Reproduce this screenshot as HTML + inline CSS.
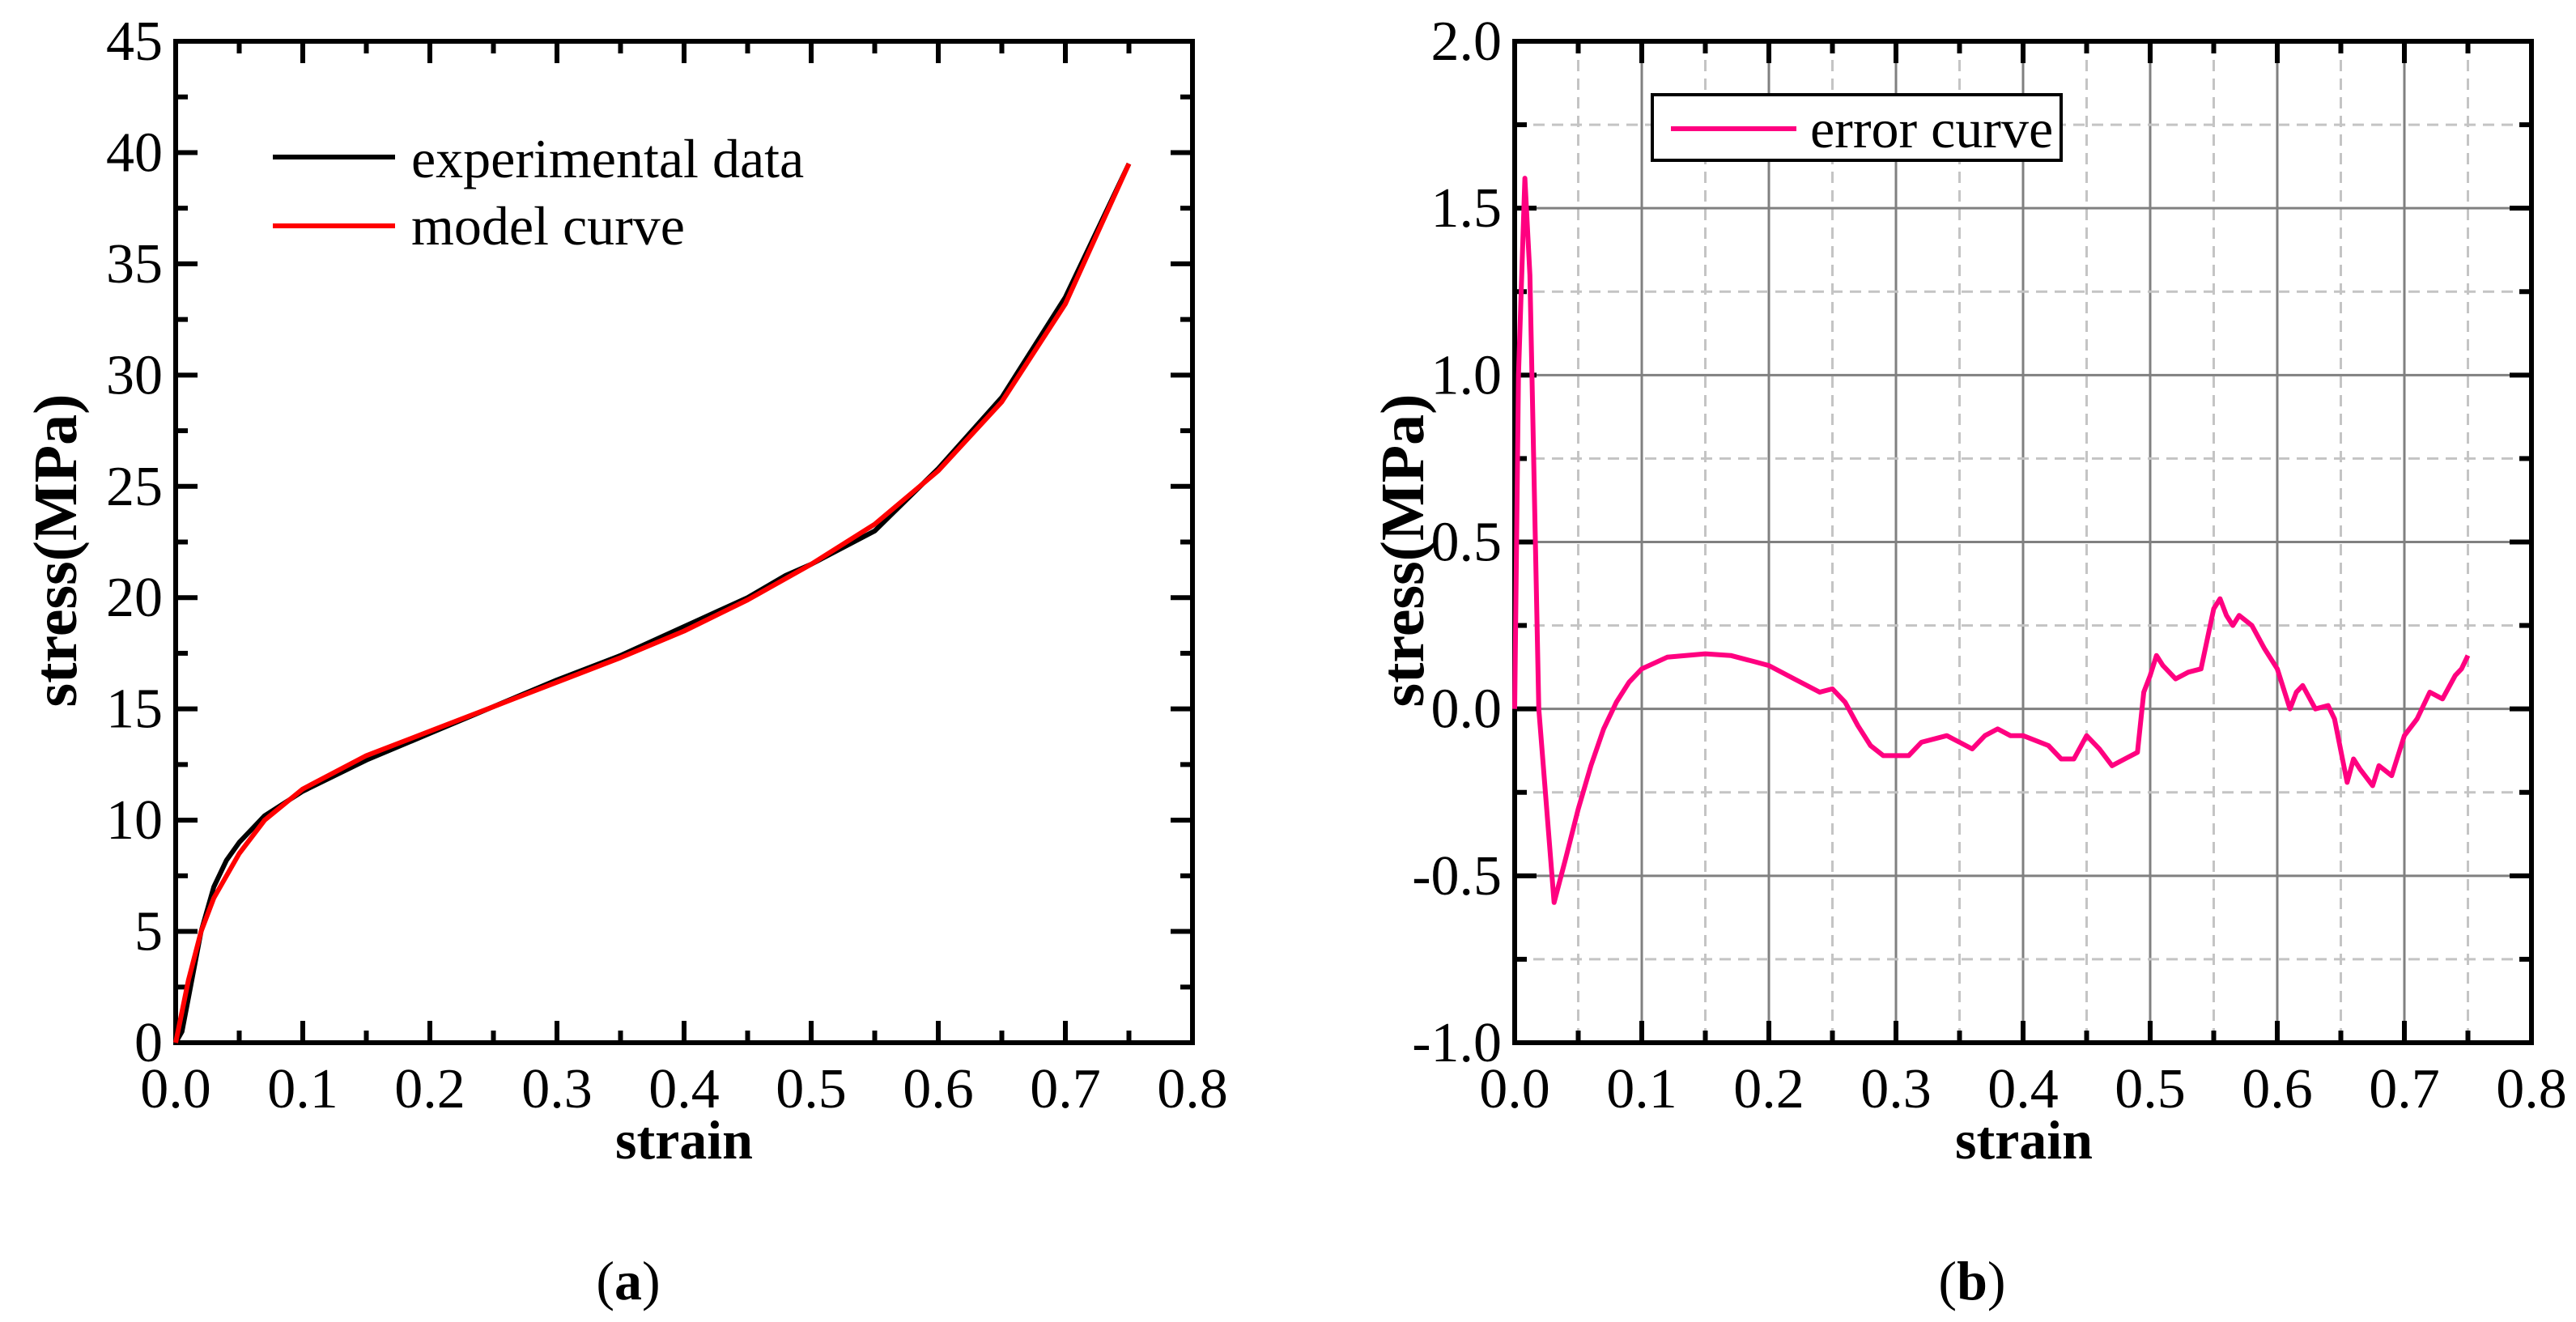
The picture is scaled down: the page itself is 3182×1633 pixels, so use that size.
<!DOCTYPE html>
<html><head><meta charset="utf-8"><style>
html,body{margin:0;padding:0;background:#fff;}
svg{display:block;font-family:"Liberation Serif",serif;}
</style></head><body>
<svg id="fig" width="3182" height="1633" viewBox="0 0 3182 1633" xmlns="http://www.w3.org/2000/svg">
<g id="pa"></g>
<g id="pb"></g>
</svg>
<script>
const expX=[0,0.005,0.01,0.02,0.03,0.04,0.05,0.07,0.1,0.15,0.2,0.25,0.3,0.35,0.4,0.45,0.48,0.5,0.55,0.6,0.65,0.7,0.75];
const expY=[0,0.5,2,5,7,8.2,9,10.2,11.3,12.7,13.9,15.1,16.3,17.4,18.7,20,21,21.5,23,25.8,29,33.5,39.5];
const modX=[0,0.01,0.02,0.03,0.05,0.07,0.1,0.15,0.2,0.25,0.3,0.35,0.4,0.45,0.5,0.55,0.6,0.65,0.7,0.75];
const modY=[0,2.8,5,6.5,8.5,10,11.4,12.9,14,15.1,16.2,17.3,18.5,19.9,21.5,23.3,25.7,28.8,33.2,39.5];
const errX=[0,0.003,0.008,0.012,0.019,0.031,0.04,0.05,0.06,0.07,0.08,0.09,0.1,0.12,0.15,0.17,0.19,0.2,0.22,0.24,0.25,0.26,0.27,0.28,0.29,0.3,0.31,0.32,0.34,0.35,0.36,0.37,0.38,0.39,0.4,0.42,0.43,0.44,0.45,0.46,0.47,0.48,0.49,0.495,0.5,0.505,0.51,0.52,0.53,0.54,0.55,0.555,0.56,0.565,0.57,0.58,0.59,0.6,0.61,0.615,0.62,0.63,0.64,0.645,0.655,0.66,0.665,0.675,0.68,0.69,0.7,0.71,0.72,0.73,0.74,0.745,0.75];
const errY=[0,1.0,1.59,1.3,0.0,-0.58,-0.45,-0.3,-0.17,-0.06,0.02,0.08,0.12,0.155,0.165,0.16,0.14,0.13,0.09,0.05,0.06,0.02,-0.05,-0.11,-0.14,-0.14,-0.14,-0.1,-0.08,-0.1,-0.12,-0.08,-0.06,-0.08,-0.08,-0.11,-0.15,-0.15,-0.08,-0.12,-0.17,-0.15,-0.13,0.05,0.1,0.16,0.13,0.09,0.11,0.12,0.3,0.33,0.28,0.25,0.28,0.25,0.18,0.12,0.0,0.05,0.07,0.0,0.01,-0.03,-0.22,-0.15,-0.18,-0.23,-0.17,-0.2,-0.08,-0.03,0.05,0.03,0.1,0.12,0.16];
const xTicks=["0.0","0.1","0.2","0.3","0.4","0.5","0.6","0.7","0.8"];
const yTicksA=["0","5","10","15","20","25","30","35","40","45"];
const yTicksB=["-1.0","-0.5","0.0","0.5","1.0","1.5","2.0"];

const NS="http://www.w3.org/2000/svg";
function mk(p,t,a){const e=document.createElementNS(NS,t);for(const k in a)e.setAttribute(k,a[k]);p.appendChild(e);return e;}
const T=51,B=1288;
function panel(g,L,R,ymin,ymax,ystep,ylabels,grid){
  const sx=v=>L+(v/0.8)*(R-L), sy=v=>B-(v-ymin)/(ymax-ymin)*(B-T);
  if(grid){
    for(let i=1;i<16;i++){const v=i*0.05;const ln=mk(g,'line',{x1:sx(v),x2:sx(v),y1:T,y2:B,stroke:i%2?'#c4c4c4':'#808080','stroke-width':3,'stroke-dasharray':i%2?'14 9':'none'});
      }
    const n=Math.round((ymax-ymin)/(ystep/2));
    for(let i=1;i<n;i++){const v=ymin+i*ystep/2;const ln=mk(g,'line',{x1:L,x2:R,y1:sy(v),y2:sy(v),stroke:i%2?'#c4c4c4':'#808080','stroke-width':3,'stroke-dasharray':i%2?'14 9':'none'});
      }
  }
  for(let i=0;i<=16;i++){const v=i*0.05,len=i%2?15:27;
    mk(g,'line',{x1:sx(v),x2:sx(v),y1:B,y2:B-len,stroke:'#000','stroke-width':6});
    mk(g,'line',{x1:sx(v),x2:sx(v),y1:T,y2:T+len,stroke:'#000','stroke-width':6});}
  const ny=Math.round((ymax-ymin)/(ystep/2));
  for(let i=0;i<=ny;i++){const v=ymin+i*ystep/2,len=i%2?15:27;
    mk(g,'line',{x1:L,x2:L+len,y1:sy(v),y2:sy(v),stroke:'#000','stroke-width':6});
    mk(g,'line',{x1:R,x2:R-len,y1:sy(v),y2:sy(v),stroke:'#000','stroke-width':6});}
  xTicks.forEach((s,i)=>{const t=mk(g,'text',{x:sx(i*0.1),y:1368,'font-size':70,'text-anchor':'middle'});t.textContent=s;
    });
  ylabels.forEach((s,i)=>{const t=mk(g,'text',{x:L-16,y:sy(ymin+i*ystep)+23,'font-size':70,'text-anchor':'end'});t.textContent=s;
    });
  const f=mk(g,'rect',{x:L,y:T,width:R-L,height:B-T,fill:'none',stroke:'#000','stroke-width':6});
  
  return {sx,sy};
}
function path(g,a,X,Y,col,name){const d=X.map((x,i)=>(i?'L':'M')+a.sx(x).toFixed(1)+' '+a.sy(Y[i]).toFixed(1)).join(' ');
  const p=mk(g,'path',{d,fill:'none',stroke:col,'stroke-width':6,'stroke-linejoin':'round'});
  }
function txt(g,x,y,s,sz,bold,anchor,rot){const t=mk(g,'text',{x,y,'font-size':sz,'text-anchor':anchor||'start','font-weight':bold?'bold':'normal'});
  if(rot)t.setAttribute('transform','rotate(-90 '+x+' '+y+')');t.textContent=s;return t;}

const ga=document.getElementById('pa');
const A=panel(ga,217,1473,0,45,5,yTicksA,false);
path(ga,A,expX,expY,'#000','experimental-data-line');
path(ga,A,modX,modY,'#ff0000','model-curve-line');
let t;
t=txt(ga,845,1431,'strain',68,true,'middle');
t=txt(ga,94,680,'stress(MPa)',76,true,'middle',true);
mk(ga,'line',{x1:337,x2:488,y1:194,y2:194,stroke:'#000','stroke-width':6});
t=txt(ga,508,219,'experimental data',68,false);
mk(ga,'line',{x1:337,x2:488,y1:279,y2:279,stroke:'#ff0000','stroke-width':6});
t=txt(ga,508,302,'model curve',68,false);
t=mk(ga,'text',{x:776,y:1605,'font-size':68,'text-anchor':'middle'});t.innerHTML='(<tspan font-weight="bold">a</tspan>)';


const gb=document.getElementById('pb');
const Bp=panel(gb,1871,3127,-1,2,0.5,yTicksB,true);
path(gb,Bp,errX,errY,'#ff0080','error-curve-line');
t=txt(gb,2500,1431,'strain',68,true,'middle');
t=txt(gb,1758,680,'stress(MPa)',76,true,'middle',true);
const lb=mk(gb,'rect',{x:2041,y:117,width:505,height:81,fill:'#fff',stroke:'#000','stroke-width':4});

mk(gb,'line',{x1:2064,x2:2219,y1:159,y2:159,stroke:'#ff0080','stroke-width':6});
t=txt(gb,2236,182,'error curve',68,false);
t=mk(gb,'text',{x:2436,y:1605,'font-size':68,'text-anchor':'middle'});t.innerHTML='(<tspan font-weight="bold">b</tspan>)';

</script>
</body></html>
